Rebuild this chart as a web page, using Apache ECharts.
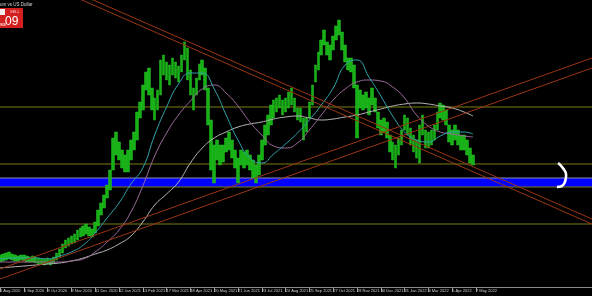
<!DOCTYPE html>
<html><head><meta charset="utf-8">
<script src="https://cdn.jsdelivr.net/npm/echarts@6/dist/echarts.min.js"></script>
<style>html,body{margin:0;padding:0;background:#000;overflow:hidden}#c{width:592px;height:296px}</style>
</head><body><div id="c"></div>
<script>
// x unit = bar slot, tick labels every 8 slots (MT4 style)
const tickLabels = ['1 Aug 2020','5 Sep 2020','9 Oct 2020','9 Nov 2020','11 Dec 2020','12 Jan 2021','13 Feb 2021','17 Mar 2021','18 Apr 2021','20 May 2021','21 Jun 2021','23 Jul 2021','24 Aug 2021','25 Sep 2021','27 Oct 2021','28 Nov 2021','30 Dec 2021','31 Jan 2022','4 Mar 2022','5 Apr 2022','7 May 2022'];
const tickSlots = [0,8,16,24,32,40,48,56,64,72,80,88,96,104,112,120,128,136,144,152,160];

// price range per bar (low / high)
const priceLow = [250,260,270,280,270,260,260,270,260,250,250,250,240,230,230,220,230,220,240,270,
300,340,390,410,430,440,470,500,510,530,510,500,540,610,720,790,890,970,1170,1320,
1270,1190,1150,1150,1270,1370,1470,1690,1770,1970,1920,1770,1670,1770,1920,2120,2070,2020,2120,2090,
2050,2150,2270,2070,1920,1770,1920,2070,2120,1970,1620,1170,1040,1270,1220,1250,1350,1370,1290,1190,
1040,1220,1190,1220,1170,1090,1040,1120,1270,1420,1520,1620,1690,1750,1790,1720,1750,1790,1820,1750,
1670,1650,1470,1550,1690,1820,2050,2170,2320,2420,2320,2270,2370,2470,2520,2370,2250,2170,2150,1990,
1490,1790,1770,1790,1720,1820,1750,1590,1520,1550,1490,1350,1270,1190,1320,1420,1570,1520,1420,1350,
1290,1240,1520,1390,1390,1420,1470,1570,1690,1670,1620,1450,1420,1470,1420,1370,1370,1320,1240,1220];
const priceHigh = [320,330,340,350,330,320,310,320,320,310,300,310,300,290,280,280,290,280,300,340,
380,430,470,490,510,530,570,590,610,630,600,580,650,770,840,920,1020,1170,1490,1550,
1450,1370,1320,1370,1470,1550,1750,1850,2020,2150,2190,1990,1890,1970,2270,2320,2250,2220,2290,2250,
2210,2320,2450,2390,2170,1990,2090,2230,2270,2190,1990,1670,1420,1470,1420,1420,1490,1550,1470,1370,
1290,1370,1350,1370,1320,1270,1220,1320,1470,1620,1720,1820,1870,1890,1920,1870,1890,1950,1990,1890,
1790,1790,1690,1690,1850,2020,2220,2350,2470,2570,2450,2420,2510,2610,2670,2550,2420,2290,2290,2220,
2020,1970,1920,1950,1890,1990,1890,1750,1670,1690,1650,1520,1450,1420,1490,1570,1720,1690,1590,1520,
1470,1620,1720,1570,1550,1570,1620,1750,1840,1820,1770,1620,1570,1620,1570,1520,1520,1470,1390,1320];

// moving averages sampled every 4 bars (last sample = last bar)
const maSlots = [0,4,8,12,16,20,24,28,32,36,40,44,48,52,56,60,64,68,72,76,80,84,88,92,96,100,104,108,112,116,120,124,128,132,136,140,144,148,152,156,159];
const maFast = [280,290,290,290,280,310,350,420,540,690,840,1030,1190,1520,1800,2030,2140,2140,1980,1720,1470,1290,1240,1330,1430,1540,1670,1820,1990,2220,2270,2100,1910,1710,1550,1470,1450,1510,1550,1550,1530];
const maMid = [250,250,250,250,250,250,260,280,350,450,570,750,1010,1310,1540,1720,1860,1980,2020,1940,1810,1650,1520,1410,1390,1440,1570,1720,1870,1980,2050,2070,2060,2000,1890,1720,1610,1550,1530,1510,1500];
const maSlow = [190,200,210,220,230,240,260,290,330,370,430,510,650,820,930,1050,1240,1390,1490,1550,1600,1630,1650,1680,1700,1710,1690,1670,1680,1700,1720,1750,1780,1810,1830,1840,1830,1810,1790,1750,1710];

// horizontal levels, zone, trend channels, hand-drawn bracket
const levels = [1800, 1230, 630];
const zoneTop = 1090, zoneBottom = 1000;
const xStart = 0, xEnd = 199;
const trendDownA = [[0,3280],[199,680]];
const trendDownB = [[0,3230],[199,630]];
const trendUpA = [[0,180],[199,2290]];
const trendUpB = [[0,80],[199,2190]];
const bracket = [[187.6,1240],[189.2,1190],[190.3,1120],[189.9,1050],[188.9,1010],[187.2,1000]];

const chart = echarts.init(document.getElementById('c'), null, {renderer:'canvas'});
const candles = priceLow.map((l,i)=>[i, l, priceHigh[i], l, priceHigh[i]]);
const pair = (a,b)=>a.map((v,i)=>[v,b[i]]);
const lineS = (data,color,w,z,smooth)=>({type:'line',data,symbol:'none',silent:true,smooth:!!smooth,z,lineStyle:{color,width:w},animation:false});
const hline = v=>[[xStart,v],[xEnd,v]];
const trendColor = '#9a3614';
const olive = '#7c7c14';
chart.setOption({
  backgroundColor:'#000',
  animation:false,
  grid:{left:0,right:0,top:0,bottom:9,outerBoundsMode:'none',containLabel:false},
  xAxis:{type:'value',min:xStart,max:xEnd,
    axisLine:{show:true,lineStyle:{color:'#8a8a8a',width:1}},
    axisTick:{show:true,customValues:tickSlots,length:5,lineStyle:{color:'#9a9a9a',width:1}},
    axisLabel:{customValues:tickSlots,align:'left',margin:1.5,fontSize:4,color:'#cfcfcf',fontFamily:'Liberation Sans',
      formatter:v=>{const k=tickSlots.indexOf(Math.round(v));return k>=0?tickLabels[k]:'';}},
    splitLine:{show:false}},
  yAxis:{type:'value',min:0,max:2870,show:false,splitLine:{show:false}},
  series:[
    {type:'line',data:hline(zoneTop),symbol:'none',silent:true,z:1,lineStyle:{color:'#8c8cb4',width:1},
      markArea:{silent:true,itemStyle:{color:'#0000ff'},data:[[{coord:[xStart,zoneTop]},{coord:[xEnd,zoneBottom]}]]}},
    lineS(hline(zoneBottom),olive,1,2),
    ...levels.map(v=>lineS(hline(v),olive,1,2)),
    {type:'candlestick',data:candles,encode:{x:0,y:[1,2,3,4]},barWidth:3.1,silent:true,z:3,
      itemStyle:{color:'#17b017',color0:'#17b017',borderColor:'#22c422',borderColor0:'#22c422',borderWidth:0.5}},
    lineS(pair(maSlots,maSlow),'#b8b8b8',1,4,true),
    lineS(pair(maSlots,maMid),'#9c6c9c',1,4,true),
    lineS(pair(maSlots,maFast),'#30a4ac',1,4,true),
    lineS(trendDownA,trendColor,1,5),
    lineS(trendDownB,trendColor,1,5),
    lineS(trendUpA,trendColor,1,5),
    lineS(trendUpB,trendColor,1,5),
    lineS(bracket,'#ffffff',2.6,6,true)
  ],
  graphic:[
    {type:'text',x:0,y:2,style:{text:'um vs US Dollar',fill:'#d8d8d8',font:'4.5px Liberation Sans'}},
    {type:'rect',shape:{x:0,y:8,width:23,height:20},style:{fill:'#d3201f'}},
    {type:'rect',shape:{x:0,y:9,width:5,height:6},style:{fill:'#efefef'}},
    {type:'text',x:10,y:10,style:{text:'SELL',fill:'#f3c8c8',font:'4px Liberation Sans'}},
    {type:'text',x:0,y:21,style:{text:'ss',fill:'#ffffff',font:'6px Liberation Sans'}},
    {type:'text',x:5,y:16,style:{text:'09',fill:'#ffffff',font:'12px Liberation Sans'}}
  ]
});
</script></body></html>
